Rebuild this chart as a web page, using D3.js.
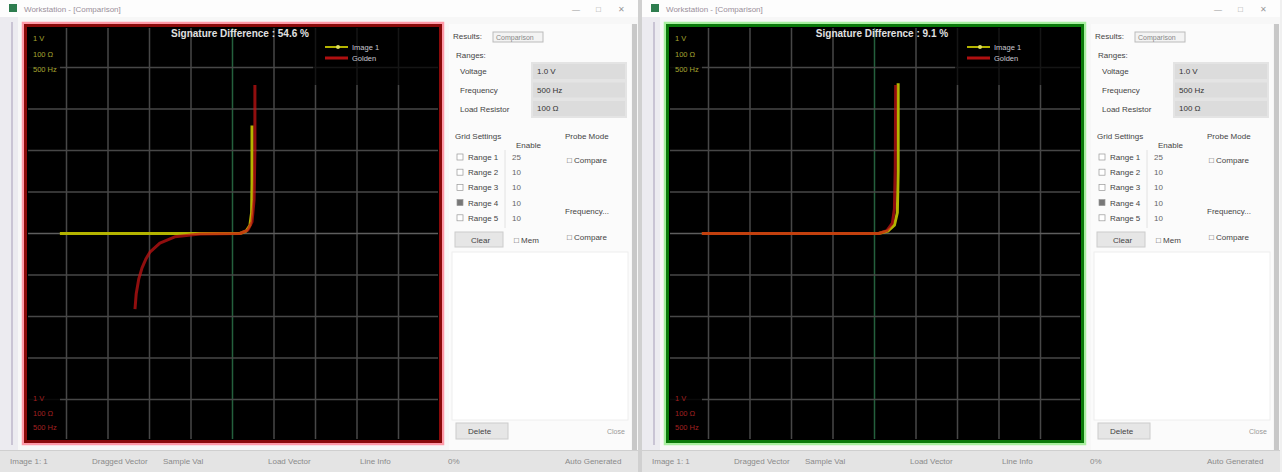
<!DOCTYPE html>
<html><head><meta charset="utf-8">
<script src="https://cdn.jsdelivr.net/npm/d3@7"></script>
<style>body{margin:0;background:#f0f0f0;}svg{display:block;font-family:"Liberation Sans",Arial,sans-serif;}</style>
</head><body><svg id="c" width="1282" height="472"></svg>
<script>
// ---- data (divisions: V horizontal, I vertical) ----
const gridTicks = [-4,-3,-2,-1,0,1,2,3,4];
const leftTitle = "Signature Difference : 54.6 %";
const rightTitle = "Signature Difference : 9.1 %";
const leftTestCurve = [[-4.16,0],[-2.5,0],[-1.0,0],[0.18,0],[0.33,0.06],[0.42,0.2],[0.46,0.5],[0.47,1.2],[0.47,2.6]];
const leftRefCurve = [[-2.35,-1.82],[-2.32,-1.45],[-2.26,-1.1],[-2.18,-0.83],[-2.08,-0.6],[-1.99,-0.45],[-1.75,-0.23],[-1.39,-0.08],[-0.78,-0.01],[0.18,0],[0.37,0.08],[0.47,0.28],[0.52,0.81],[0.54,2.0],[0.54,3.58]];
const rightTestCurve = [[-4.16,0],[-2.0,0],[0.1,0],[0.32,0.06],[0.48,0.2],[0.55,0.5],[0.57,1.5],[0.57,3.62]];
const rightRefCurve = [[-4.16,0],[-2.0,0],[0.1,0],[0.3,0.07],[0.43,0.25],[0.48,0.6],[0.5,1.6],[0.51,3.58]];
const settingLabels = ["1 V","100 Ω","500 Hz"];
const legendLabels = ["Image 1","Golden"];
const rangeLabels = ["Voltage","Frequency","Load Resistor"];
const rangeValues = ["1.0 V","500 Hz","100 Ω"];
const rangeNames = ["Range 1","Range 2","Range 3","Range 4","Range 5"];
const rangeCounts = ["25","10","10","10","10"];
const rangeChecked = [false,false,false,true,false];
const statusTexts = [["Image 1: 1",10],["Dragged Vector",92],["Sample Val",163],["Load Vector",268],["Line Info",360],["0%",448],["Auto Generated",565]];

const svg = d3.select("#c");

function drawWindow(ox, opt){
  const g = svg.append("g").attr("transform",`translate(${ox},0)`);
  g.append("rect").attr("x",0).attr("y",0).attr("width",638).attr("height",472).attr("fill","#f7f7f7");
  g.append("rect").attr("x",0).attr("y",0).attr("width",638).attr("height",17).attr("fill","#fdfdfd");
  g.append("rect").attr("x",9).attr("y",4).attr("width",8).attr("height",8).attr("fill","#2e7d4f");
  g.append("text").attr("x",24).attr("y",12).attr("font-size",8).attr("fill","#9a8f9a").text("Workstation - [Comparison]");
  g.append("text").attr("x",572).attr("y",12).attr("font-size",8).attr("fill","#999").text("—");
  g.append("text").attr("x",596).attr("y",12).attr("font-size",8).attr("fill","#999").text("□");
  g.append("text").attr("x",618).attr("y",12).attr("font-size",8).attr("fill","#999").text("✕");
  g.append("rect").attr("x",0).attr("y",17).attr("width",18).attr("height",433).attr("fill","#ecebf0");
  g.append("line").attr("x1",12).attr("x2",12).attr("y1",22).attr("y2",445).attr("stroke","#c9c4d4").attr("stroke-width",2);
  g.append("rect").attr("x",23).attr("y",23).attr("width",420).attr("height",421).attr("fill","none").attr("stroke",opt.light).attr("stroke-width",2.5);
  g.append("rect").attr("x",25.5).attr("y",25.5).attr("width",415).attr("height",416).attr("fill","#000").attr("stroke",opt.dark).attr("stroke-width",3);

  const x = d3.scaleLinear().domain([-5,5]).range([25,440]);
  const y = d3.scaleLinear().domain([-5,5]).range([441,26]);
  const p = g.append("g");
  p.selectAll("line.v").data(gridTicks).join("line")
    .attr("x1",d=>x(d)).attr("x2",d=>x(d)).attr("y1",28).attr("y2",439)
    .attr("stroke",d=>d===0?"#24603d":"#474747").attr("stroke-width",1.5);
  p.selectAll("line.h").data(gridTicks).join("line")
    .attr("y1",d=>y(d)).attr("y2",d=>y(d)).attr("x1",28).attr("x2",438)
    .attr("stroke",d=>d===0?"#5e5e5e":"#474747").attr("stroke-width",1.5);
  p.append("rect").attr("x",28).attr("y",28).attr("width",32).attr("height",58).attr("fill","#000").attr("opacity",0.85);
  p.append("rect").attr("x",313).attr("y",28).attr("width",125).attr("height",57).attr("fill","#000").attr("opacity",0.7);
  p.append("rect").attr("x",28).attr("y",388).attr("width",32).attr("height",51).attr("fill","#000").attr("opacity",0.85);

  const lineX = d3.line().x(d=>x(d[0])).y(d=>y(d[1])).curve(d3.curveLinear);
  p.append("path").attr("d",lineX(opt.test)).attr("fill","none").attr("stroke","#b4b400").attr("stroke-width",3).attr("stroke-linejoin","round");
  p.append("path").attr("d",lineX(opt.ref)).attr("fill","none").attr("stroke","#c81414").attr("stroke-width",3).attr("opacity",0.72).attr("stroke-linejoin","round");

  p.append("text").attr("x",240).attr("y",37).attr("text-anchor","middle").attr("font-size",10).attr("font-weight","bold").attr("fill","#e0e0e0").text(opt.title);
  p.selectAll("text.s").data(settingLabels).join("text").attr("x",33).attr("y",(d,i)=>41+i*15.5)
    .attr("font-size",7.5).attr("fill","#a6a630").text(d=>d);
  p.selectAll("text.r").data(settingLabels).join("text").attr("x",33).attr("y",(d,i)=>401+i*14.5)
    .attr("font-size",7.5).attr("fill","#a32020").text(d=>d);
  const lg = p.append("g");
  lg.append("line").attr("x1",325).attr("x2",348).attr("y1",47).attr("y2",47).attr("stroke","#b4b400").attr("stroke-width",2);
  lg.append("circle").attr("cx",338).attr("cy",47).attr("r",2).attr("fill","#dede60");
  lg.append("line").attr("x1",325).attr("x2",348).attr("y1",58).attr("y2",58).attr("stroke","#b01010").attr("stroke-width",3);
  lg.append("text").attr("x",352).attr("y",50).attr("font-size",7.5).attr("fill","#c8c8d2").text(legendLabels[0]);
  lg.append("text").attr("x",352).attr("y",61).attr("font-size",7.5).attr("fill","#c8c8d2").text(legendLabels[1]);

  const c = g.append("g").attr("font-size",8).attr("fill","#444");
  c.append("rect").attr("x",449).attr("y",24).attr("width",182).attr("height",426).attr("fill","#fbfbfb");
  c.append("text").attr("x",453).attr("y",39).text("Results:");
  c.append("rect").attr("x",493).attr("y",32).attr("width",50).attr("height",10).attr("fill","#f3f3f3").attr("stroke","#bbb");
  c.append("text").attr("x",496).attr("y",40).attr("font-size",7).attr("fill","#888").text("Comparison");
  c.append("text").attr("x",456).attr("y",58).text("Ranges:");
  c.append("rect").attr("x",531).attr("y",62).attr("width",96).attr("height",56).attr("fill","#e4e4e4");
  rangeLabels.forEach((t,i)=>{
    c.append("text").attr("x",460).attr("y",74+i*19).text(t);
    c.append("rect").attr("x",533).attr("y",64+i*18.5).attr("width",92).attr("height",15).attr("fill","#dcdcdc");
    c.append("text").attr("x",537).attr("y",74+i*18.5).attr("fill","#333").text(rangeValues[i]);
  });
  c.append("text").attr("x",455).attr("y",139).text("Grid Settings");
  c.append("text").attr("x",516).attr("y",148).text("Enable");
  c.append("text").attr("x",565).attr("y",139).text("Probe Mode");
  rangeNames.forEach((t,i)=>{
    const yy = 160 + i*15.2;
    c.append("rect").attr("x",457).attr("y",yy-6).attr("width",6).attr("height",6).attr("fill",rangeChecked[i]?"#777":"#fff").attr("stroke","#999").attr("stroke-width",0.7);
    c.append("text").attr("x",468).attr("y",yy).text(t);
    c.append("text").attr("x",512).attr("y",yy).attr("fill","#666").text(rangeCounts[i]);
  });
  c.append("line").attr("x1",505).attr("x2",505).attr("y1",150).attr("y2",228).attr("stroke","#e2e2e2");
  c.append("text").attr("x",567).attr("y",163).text("□ Compare");
  c.append("text").attr("x",565).attr("y",214).text("Frequency...");
  c.append("text").attr("x",567).attr("y",240).text("□ Compare");
  c.append("rect").attr("x",455).attr("y",232).attr("width",48).attr("height",15).attr("fill","#e6e6e6").attr("stroke","#ccc");
  c.append("text").attr("x",471).attr("y",243).text("Clear");
  c.append("text").attr("x",514).attr("y",243).text("□ Mem");
  c.append("rect").attr("x",452).attr("y",252).attr("width",176).attr("height",168).attr("fill","#fff").attr("stroke","#eee");
  c.append("rect").attr("x",456).attr("y",423).attr("width",52).attr("height",16).attr("fill","#e6e6e6").attr("stroke","#ccc");
  c.append("text").attr("x",468).attr("y",434).text("Delete");
  c.append("text").attr("x",607).attr("y",434).attr("fill","#999").attr("font-size",7).text("Close");
  c.append("rect").attr("x",632).attr("y",24).attr("width",5).attr("height",426).attr("fill","#c8c8c8");

  g.append("rect").attr("x",0).attr("y",450).attr("width",638).attr("height",22).attr("fill","#e4e4e4");
  g.append("line").attr("x1",0).attr("x2",638).attr("y1",450.5).attr("y2",450.5).attr("stroke","#cfcfcf");
  statusTexts.forEach(([t,xx])=>{
    g.append("text").attr("x",xx).attr("y",464).attr("font-size",8).attr("fill","#8a8a8a").text(t);
  });
}

drawWindow(0,{light:"#ff9aa8",dark:"#8b0a0a",title:leftTitle,test:leftTestCurve,ref:leftRefCurve});
drawWindow(642,{light:"#a8f0a0",dark:"#0a7a0a",title:rightTitle,test:rightTestCurve,ref:rightRefCurve});
svg.append("rect").attr("x",638).attr("y",0).attr("width",4).attr("height",472).attr("fill","#d0d0d0");
</script></body></html>
